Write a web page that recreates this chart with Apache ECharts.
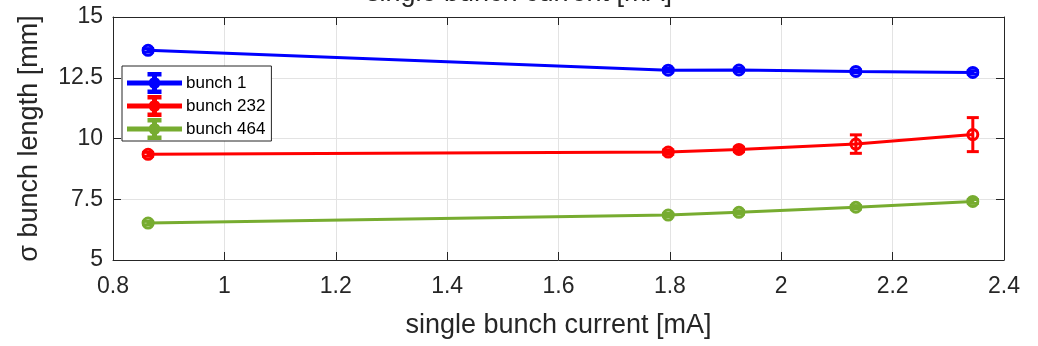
<!DOCTYPE html>
<html>
<head>
<meta charset="utf-8">
<script src="https://cdn.jsdelivr.net/npm/echarts@6/dist/echarts.min.js"></script>
<style>
  html, body { margin: 0; padding: 0; background: #fff; }
  #chart { width: 1038px; height: 346px; }
</style>
</head>
<body>
<div id="chart"></div>
<script>
// Bunch length versus single bunch current for three bunches
const current = [0.863, 1.797, 1.924, 2.134, 2.344];

const bunch1 = [13.63, 12.81, 12.82, 12.76, 12.72];
const bunch1Err = [0.07, 0.07, 0.07, 0.06, 0.07];

const bunch232 = [9.35, 9.44, 9.55, 9.77, 10.16];
const bunch232Err = [0.08, 0.09, 0.09, 0.38, 0.70];

const bunch464 = [6.52, 6.85, 6.96, 7.17, 7.41];
const bunch464Err = [0.07, 0.07, 0.07, 0.07, 0.08];

const seriesNames = ['bunch 1', 'bunch 232', 'bunch 464'];
const seriesColors = ['#0000ff', '#ff0000', '#77ac30'];

const xTicks = { min: 0.8, max: 2.4, interval: 0.2 };
const yTicks = { min: 5, max: 15, interval: 2.5 };

const axisColor = '#262626';
const font = 'Liberation Sans, Arial, Helvetica, sans-serif';

function pairs(ys) {
  return ys.map((y, i) => [current[i], y]);
}
function bars(ys, errs) {
  return ys.map((y, i) => [current[i], y - errs[i], y + errs[i]]);
}

// vertical error bar with caps
function renderErrorBar(params, api) {
  const x = api.value(0);
  const lo = api.coord([x, api.value(1)]);
  const hi = api.coord([x, api.value(2)]);
  const half = 6;
  const style = { stroke: api.visual('color'), lineWidth: 3, fill: null };
  return {
    type: 'group',
    children: [
      { type: 'line', shape: { x1: lo[0], y1: lo[1], x2: hi[0], y2: hi[1] }, style },
      { type: 'line', shape: { x1: lo[0] - half, y1: lo[1], x2: lo[0] + half, y2: lo[1] }, style },
      { type: 'line', shape: { x1: hi[0] - half, y1: hi[1], x2: hi[0] + half, y2: hi[1] }, style }
    ]
  };
}

const values = [bunch1, bunch232, bunch464];
const errors = [bunch1Err, bunch232Err, bunch464Err];

const series = [];
values.forEach((ys, k) => {
  series.push({
    name: seriesNames[k] + ' err',
    type: 'custom',
    renderItem: renderErrorBar,
    data: bars(ys, errors[k]),
    itemStyle: { color: seriesColors[k] },
    encode: { x: 0, y: [1, 2] },
    z: 5,
    silent: true
  });
  series.push({
    name: seriesNames[k],
    type: 'line',
    data: pairs(ys),
    lineStyle: { width: 3, color: seriesColors[k] },
    symbol: 'circle',
    symbolSize: 10,
    // open markers: transparent face, coloured ring
    itemStyle: { color: 'rgba(0,0,0,0)', borderColor: seriesColors[k], borderWidth: 3 },
    z: 4,
    animation: false
  });
});

// legend glyph: line + error bar + marker (all sub-paths wound the same way)
const legendIcon = 'path://M0,8.5H53V11.5H0Z M25,1H28V19H25Z M20.5,0H32.5V2.5H20.5Z M20.5,17.5H32.5V20H20.5Z M21.5,10a5,5 0 1,1 10,0a5,5 0 1,1 -10,0Z';

const chart = echarts.init(document.getElementById('chart'), null, { renderer: 'canvas' });
chart.setOption({
  animation: false,
  backgroundColor: '#ffffff',
  title: {
    text: 'single bunch current [mA]',
    left: 'center',
    top: -25,
    textStyle: { fontFamily: font, fontSize: 27, fontWeight: 'normal', color: axisColor }
  },
  grid: { left: 113, right: 34, top: 17, bottom: 86, containLabel: false },
  legend: {
    data: seriesNames.map((n, k) => ({ name: n, itemStyle: { color: seriesColors[k] } })),
    orient: 'vertical',
    left: 122,
    top: 66,
    itemWidth: 53,
    itemHeight: 20,
    itemGap: 1,
    icon: legendIcon,
    padding: [6, 6, 1, 5],
    backgroundColor: '#ffffff',
    borderColor: axisColor,
    borderWidth: 1,
    borderRadius: 0,
    textStyle: { fontFamily: font, fontSize: 17, lineHeight: 18, color: '#000000' },
    selectedMode: false
  },
  xAxis: [
    {
      type: 'value',
      min: xTicks.min, max: xTicks.max, interval: xTicks.interval,
      name: 'single bunch current [mA]',
      nameLocation: 'middle',
      nameGap: 52,
      nameTextStyle: { fontFamily: font, fontSize: 27, color: axisColor },
      axisLine: { show: true, onZero: false, lineStyle: { color: axisColor, width: 1 } },
      axisTick: { show: true, inside: true, length: 8, lineStyle: { color: axisColor } },
      axisLabel: { fontFamily: font, fontSize: 23, color: axisColor, margin: 15,
        formatter: v => String(Math.round(v * 10) / 10) },
      splitLine: { show: true, lineStyle: { color: '#e3e3e3', width: 1 } }
    },
    {
      type: 'value', position: 'top',
      min: xTicks.min, max: xTicks.max, interval: xTicks.interval,
      axisLine: { show: true, onZero: false, lineStyle: { color: axisColor, width: 1 } },
      axisTick: { show: true, inside: true, length: 8, lineStyle: { color: axisColor } },
      axisLabel: { show: false },
      splitLine: { show: false }
    }
  ],
  yAxis: [
    {
      type: 'value',
      min: yTicks.min, max: yTicks.max, interval: yTicks.interval,
      name: 'σ bunch length [mm]',
      nameLocation: 'middle',
      nameRotate: 90,
      nameGap: 70,
      nameTextStyle: { fontFamily: font, fontSize: 27, color: axisColor },
      axisLine: { show: true, onZero: false, lineStyle: { color: axisColor, width: 1 } },
      axisTick: { show: true, inside: true, length: 8, lineStyle: { color: axisColor } },
      axisLabel: { fontFamily: font, fontSize: 23, color: axisColor, margin: 10 },
      splitLine: { show: true, lineStyle: { color: '#e3e3e3', width: 1 } }
    },
    {
      type: 'value', position: 'right',
      min: yTicks.min, max: yTicks.max, interval: yTicks.interval,
      axisLine: { show: true, onZero: false, lineStyle: { color: axisColor, width: 1 } },
      axisTick: { show: true, inside: true, length: 8, lineStyle: { color: axisColor } },
      axisLabel: { show: false },
      splitLine: { show: false }
    }
  ],
  series: series
});
</script>
</body>
</html>
